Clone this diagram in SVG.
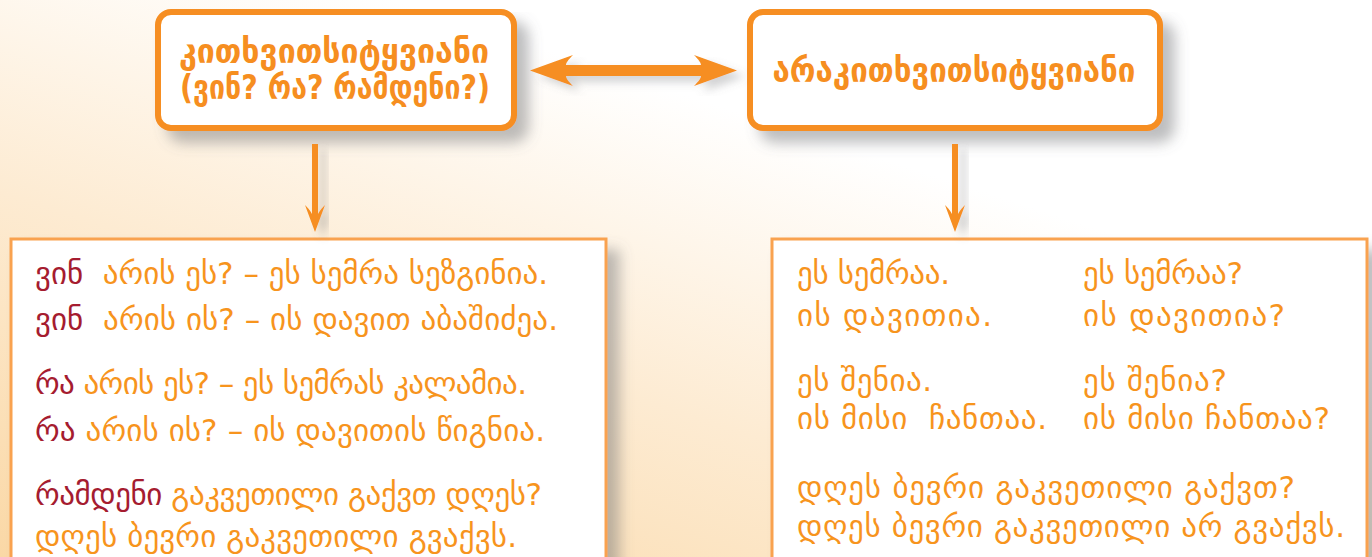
<svg xmlns="http://www.w3.org/2000/svg" width="1372" height="557" viewBox="0 0 1372 557">
<defs>
<linearGradient id="bg" x1="0" y1="1" x2="0.8" y2="0">
<stop offset="0" stop-color="#fad8a6"/>
<stop offset="0.4" stop-color="#fdebd2"/>
<stop offset="0.75" stop-color="#ffffff"/>
</linearGradient>
<filter id="sh" x="-10%" y="-10%" width="130%" height="140%">
<feGaussianBlur in="SourceAlpha" stdDeviation="7"/>
<feOffset dx="12" dy="12" result="b"/>
<feFlood flood-color="#6d6e71" flood-opacity="0.45"/>
<feComposite in2="b" operator="in"/>
<feMerge><feMergeNode/><feMergeNode in="SourceGraphic"/></feMerge>
</filter>
<filter id="sh2" x="-10%" y="-10%" width="130%" height="140%">
<feGaussianBlur in="SourceAlpha" stdDeviation="4"/>
<feOffset dx="8" dy="6" result="b"/>
<feFlood flood-color="#6d6e71" flood-opacity="0.3"/>
<feComposite in2="b" operator="in"/>
<feMerge><feMergeNode/><feMergeNode in="SourceGraphic"/></feMerge>
</filter>
</defs>
<style>
.hd{fill:#fff;stroke:#f68e20;stroke-width:6}
.bx{fill:#fff;stroke:#f9a24f;stroke-width:3}
.ht{font-family:"DejaVu Sans",sans-serif;font-weight:bold;font-size:34px;fill:#f68e20;text-anchor:middle}
.t{font-family:"DejaVu Sans",sans-serif;font-size:31px;fill:#f7941d;white-space:pre}
.r{fill:#a51c30}
.ar{fill:#f68e20}
</style>
<rect width="1372" height="557" fill="url(#bg)"/>
<g id="node-interrogative">
<rect class="hd" x="158" y="12" width="356" height="116" rx="13" filter="url(#sh)"/>
<text class="ht" x="334" y="63" textLength="310" lengthAdjust="spacingAndGlyphs">კითხვითსიტყვიანი</text>
<text class="ht" x="335" y="99" textLength="310" lengthAdjust="spacingAndGlyphs">(ვინ? რა? რამდენი?)</text>
</g>
<g id="node-noninterrogative">
<rect class="hd" x="750" y="12" width="410" height="116" rx="13" filter="url(#sh)"/>
<text class="ht" x="954" y="82" textLength="363" lengthAdjust="spacingAndGlyphs">არაკითხვითსიტყვიანი</text>
</g>
<g id="node-left-examples">
<rect class="bx" x="11" y="239" width="595" height="330" filter="url(#sh)"/>
<text class="t" x="35" y="284" textLength="513"><tspan class="r">ვინ</tspan>  არის ეს? – ეს სემრა სეზგინია.</text>
<text class="t" x="35" y="330" textLength="523"><tspan class="r">ვინ</tspan>  არის ის? – ის დავით აბაშიძეა.</text>
<text class="t" x="35" y="394" textLength="492"><tspan class="r">რა</tspan> არის ეს? – ეს სემრას კალამია.</text>
<text class="t" x="35" y="441" textLength="510"><tspan class="r">რა</tspan> არის ის? – ის დავითის წიგნია.</text>
<text class="t" x="35" y="505" textLength="507"><tspan class="r">რამდენი</tspan> გაკვეთილი გაქვთ დღეს?</text>
<text class="t" x="35" y="547" textLength="482">დღეს ბევრი გაკვეთილი გვაქვს.</text>
</g>
<g id="node-right-examples">
<rect class="bx" x="772" y="239" width="595" height="330" filter="url(#sh)"/>
<text class="t" x="797" y="284" textLength="153">ეს სემრაა.</text>
<text class="t" x="797" y="326" textLength="195">ის დავითია.</text>
<text class="t" x="797" y="391" textLength="135">ეს შენია.</text>
<text class="t" x="797" y="429" textLength="250">ის მისი  ჩანთაა.</text>
<text class="t" x="1083" y="284" textLength="160">ეს სემრაა?</text>
<text class="t" x="1083" y="326" textLength="202">ის დავითია?</text>
<text class="t" x="1083" y="391" textLength="144">ეს შენია?</text>
<text class="t" x="1083" y="429" textLength="247">ის მისი ჩანთაა?</text>
<text class="t" x="797" y="498" textLength="498">დღეს ბევრი გაკვეთილი გაქვთ?</text>
<text class="t" x="797" y="537" textLength="548">დღეს ბევრი გაკვეთილი არ გვაქვს.</text>
</g>
<g id="connectors">
<path class="ar" filter="url(#sh2)" d="M530,70.5 L573,55 C568,60 566,63 566,65 L701,65 C701,63 699,60 694,55 L737,70.5 L694,86 C699,81 701,78 701,76 L566,76 C566,78 568,81 573,86 Z"/>
<path class="ar" filter="url(#sh2)" d="M312,144 L318,144 L318,214 C320,210 323,207 325,205 L315,232 L305,205 C307,207 310,210 312,214 Z"/>
<path class="ar" filter="url(#sh2)" d="M952,144 L958,144 L958,214 C960,210 963,207 965,205 L955,232 L945,205 C947,207 950,210 952,214 Z"/>
</g>
</svg>
